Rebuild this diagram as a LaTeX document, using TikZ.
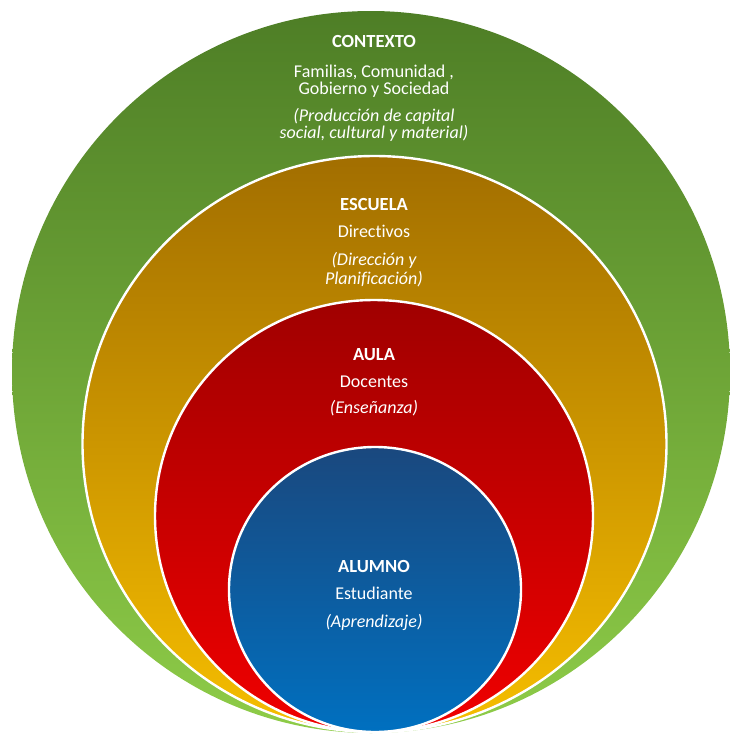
\documentclass[tikz,border=0pt]{standalone}
\usepackage{fontspec}
\setmainfont{Carlito}[Ligatures={NoCommon}]
\definecolor{gtop}{RGB}{78,126,38}
\definecolor{gbot}{RGB}{142,204,72}
\definecolor{otop}{RGB}{162,110,0}
\definecolor{obot}{RGB}{246,190,0}
\definecolor{rtop}{RGB}{160,0,0}
\definecolor{rbot}{RGB}{240,0,0}
\definecolor{btop}{RGB}{26,72,126}
\definecolor{bbot}{RGB}{0,112,192}
\begin{document}
\begin{tikzpicture}[x=1pt,y=-1pt,
  ring/.style={draw=white,line width=2.4pt},
  txt/.style={anchor=base,text=white,inner sep=0pt,font=\fontsize{18}{18}\selectfont},
  ttl/.style={txt,font=\fontsize{18.5}{18}\selectfont\bfseries},
  itl/.style={txt,font=\fontsize{18}{18}\selectfont\itshape}]
\useasboundingbox[fill=white] (0,0) rectangle (729,734);
\shade[top color=gtop,bottom color=gbot] (371,372) ellipse [x radius=359,y radius=361];
\shade[ring,top color=otop,bottom color=obot] (374.5,444) ellipse [x radius=292,y radius=288];
\shade[ring,top color=rtop,bottom color=rbot] (374,516) ellipse [x radius=219,y radius=216];
\shade[ring,top color=btop,bottom color=bbot] (375,589.5) ellipse [x radius=146,y radius=142.5];
\node[ttl] (c1) at (374,47) {CONTEXTO};
\node[txt] (c2) at (374,77) {Familias, Comunidad ,};
\node[txt] (c3) at (374,94.5) {Gobierno y Sociedad};
\node[itl] (c4) at (374,121) {(Producción de capital};
\node[itl] (c5) at (374,138.5) {social, cultural y material)};
\node[ttl] (e1) at (374,210) {ESCUELA};
\node[txt] (e2) at (374,237.5) {Directivos};
\node[itl] (e3) at (374,265) {(Dirección y};
\node[itl] (e4) at (374,284) {Planificación)};
\node[ttl] (a1) at (374,360) {AULA};
\node[txt] (a2) at (374,387.5) {Docentes};
\node[itl] (a3) at (374,413) {(Enseñanza)};
\node[ttl] (s1) at (374,572) {ALUMNO};
\node[txt] (s2) at (374,599) {Estudiante};
\node[itl] (s3) at (374,627) {(Aprendizaje)};
\end{tikzpicture}
\end{document}
